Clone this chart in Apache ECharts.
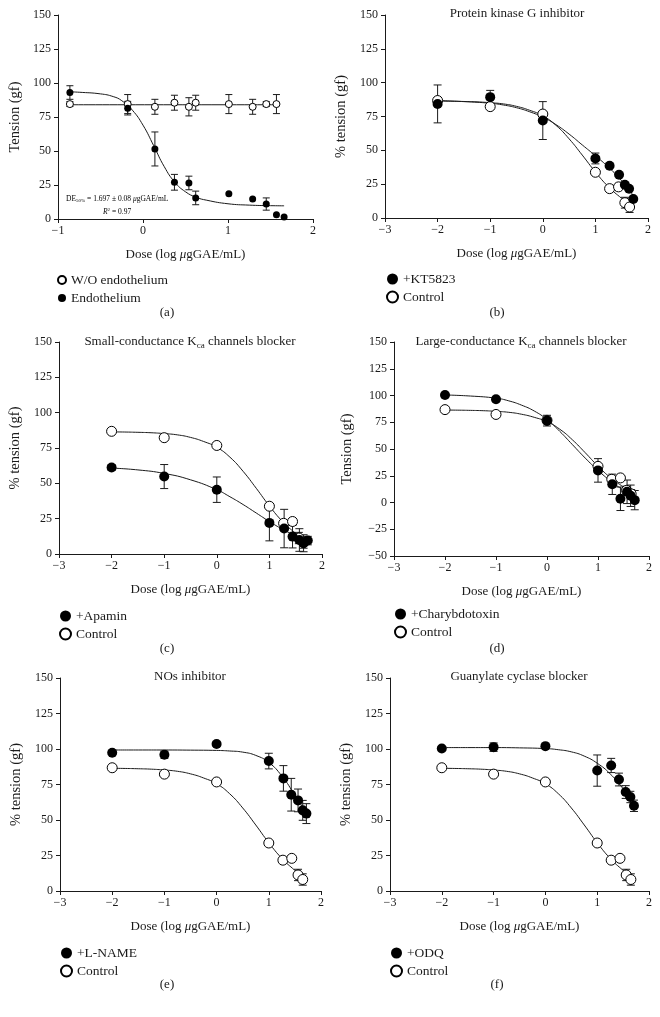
<!DOCTYPE html>
<html>
<head>
<meta charset="utf-8">
<script src="https://cdn.jsdelivr.net/npm/echarts@6/dist/echarts.min.js"></script>
<style>
html,body{margin:0;padding:0;background:#fff;}
#chart{width:660px;height:1017px;}
</style>
</head>
<body>
<div id="chart"></div>
<script>
// ---------- Panel (a) ----------
const aDose = [-0.86, -0.18, 0.14, 0.37, 0.54, 0.62, 1.01, 1.29, 1.45, 1.57];
const aWithout = [84.5, 84.5, 82.5, 85.5, 82.5, 85.5, 84.5, 82.5, 84.5, 84.5];
const aWithoutErr = [1.8, 7, 5.5, 5.5, 6.7, 5.5, 7, 5.5, 1.8, 7];
const aEndoDose = [-0.86, -0.18, 0.14, 0.37, 0.54, 0.62, 1.01, 1.29, 1.45, 1.57, 1.66];
const aEndo = [93, 81.5, 51.5, 27, 26.5, 15.5, 18.5, 14.7, 11, 3.2, 1.5];
const aEndoErr = [5, 5, 12.5, 5.8, 5, 5, 0, 0, 4.5, 0, 0];
const aFitDose = [-0.86, -0.75, -0.5, -0.35, -0.25, -0.125, 0, 0.125, 0.25, 0.375, 0.5, 0.625, 0.75, 1.0, 1.25, 1.5, 1.66];
const aFitEndo = [93.5, 93.2, 92, 90, 87, 80, 69, 54, 38.5, 27, 20, 16, 13.8, 11.2, 10.2, 9.8, 9.7];
const aFitWithoutDose = [-0.86, 1.57];
const aFitWithout = [84, 84];

// ---------- Shared control (b-f) ----------
const ctrlDose = [-2, -1, 0, 1.0, 1.27, 1.44, 1.56, 1.65];
const ctrlTension = [86.8, 82.3, 76.8, 33.8, 21.7, 23, 11.3, 8.1];
const ctrlErr = [0, 0, 0, 0, 0, 0, 4, 4];
const ctrlFitDose = [-2, -1.75, -1.5, -1.25, -1, -0.75, -0.5, -0.25, 0, 0.25, 0.5, 0.75, 1.0, 1.25, 1.5, 1.62];
const ctrlFit = [86.4, 86.3, 86.1, 85.8, 85.2, 84.3, 82.5, 79.6, 75.5, 68.5, 58.5, 46.5, 34, 23, 14.5, 11];

// ---------- Panel (b) +KT5823 ----------
const ktDose = [-2, -1, 0, 1.0, 1.27, 1.45, 1.56, 1.64, 1.72];
const ktTension = [84.3, 89.3, 72, 44, 38.6, 32, 24.6, 21.6, 14];
const ktErr = [14, 5, 14, 4, 0, 0, 0, 0, 0];
const ktFitDose = [-2, -1.5, -1, -0.75, -0.5, -0.25, 0, 0.25, 0.5, 0.75, 1.0, 1.25, 1.5, 1.73];
const ktFit = [86.8, 86, 84.8, 83.5, 81.5, 78.5, 74.5, 69, 62, 54, 46, 37.5, 27.5, 16];

// ---------- Panel (c) +Apamin ----------
const apaDose = [-2, -1, 0, 1.0, 1.28, 1.44, 1.57, 1.65, 1.73];
const apaTension = [61.2, 54.8, 45.5, 22, 18, 12.3, 9.9, 7.6, 9.5];
const apaErr = [2, 8.5, 9, 12.7, 13.6, 8, 8, 6, 3];
const apaFitDose = [-2, -1.5, -1, -0.5, 0, 0.25, 0.5, 0.75, 1.0, 1.25, 1.5, 1.73];
const apaFit = [60.8, 59.5, 57, 52.5, 45.5, 40.5, 35, 29, 23, 17.5, 13, 9.5];

// ---------- Panel (d) +Charybdotoxin ----------
const chDose = [-2, -1, 0, 1.0, 1.28, 1.44, 1.57, 1.64, 1.72];
const chTension = [100.5, 96.5, 76.5, 30, 17, 3.5, 10, 6.3, 2.2];
const chErr = [0, 0, 5, 11, 9.5, 11, 11, 10, 9];
const chFitDose = [-2, -1.5, -1, -0.75, -0.5, -0.25, 0, 0.25, 0.5, 0.75, 1.0, 1.25, 1.5, 1.73];
const chFit = [100.5, 99.5, 97.5, 95, 91, 85.5, 77.5, 66.5, 54, 41.5, 30, 20, 11.5, 5];

// ---------- Panel (e) +L-NAME ----------
const lnDose = [-2, -1, 0, 1.0, 1.28, 1.43, 1.56, 1.65, 1.72];
const lnTension = [97.3, 96, 103.5, 91.5, 79.3, 67.8, 63.8, 56.8, 54.5];
const lnErr = [0, 2.5, 1.5, 5.5, 9, 11.5, 8, 7, 7];
const lnFitDose = [-2, -1.5, -1, -0.5, 0, 0.25, 0.5, 0.75, 1.0, 1.25, 1.5, 1.72];
const lnFit = [99.3, 99.3, 99.3, 99.2, 99, 98.6, 97.8, 95.5, 90.5, 81, 67.5, 55];

// ---------- Panel (f) +ODQ ----------
const odqDose = [-2, -1, 0, 1.0, 1.27, 1.42, 1.55, 1.64, 1.71];
const odqTension = [100.3, 101.3, 102, 84.8, 88.4, 78.5, 69.7, 66.2, 60];
const odqErr = [0, 3, 0, 11, 5, 4.5, 4.5, 4, 4];
const odqFitDose = [-2, -1.5, -1, -0.5, 0, 0.25, 0.5, 0.75, 1.0, 1.25, 1.5, 1.72];
const odqFit = [101, 101, 101, 100.8, 100.3, 99.5, 98, 95, 90, 82.5, 72, 60];

// ---------- Tick / text labels ----------
const doseName = 'Dose (log {i|μ}gGAE/mL)';
const panelLabels = ['(a)', '(b)', '(c)', '(d)', '(e)', '(f)'];

const FONT = '"Liberation Serif", "DejaVu Serif", serif';
const INK = '#1a1a1a';

const grids = [
  {left: 58, top: 15, width: 255, height: 204},
  {left: 385, top: 15, width: 263, height: 203},
  {left: 59, top: 342, width: 263, height: 212},
  {left: 394, top: 342, width: 255, height: 214},
  {left: 60, top: 678, width: 261, height: 213},
  {left: 390, top: 678, width: 259, height: 213}
];
const xRanges = [[-1, 2], [-3, 2], [-3, 2], [-3, 2], [-3, 2], [-3, 2]];
const yRanges = [[0, 150], [0, 150], [0, 150], [-50, 150], [0, 150], [0, 150]];
const yNames = ['Tension (gf)', '% tension (gf)', '% tension (gf)', 'Tension (gf)', '% tension (gf)', '% tension (gf)'];
const yNameGaps = [35, 36, 36, 39, 36, 36];

const minus = v => String(v).replace('-', '−');

const xAxes = grids.map((g, i) => ({
  type: 'value', gridIndex: i, min: xRanges[i][0], max: xRanges[i][1], interval: 1,
  splitLine: {show: false},
  axisLine: {onZero: false, lineStyle: {color: INK, width: 1}},
  axisTick: {show: true, length: 4, lineStyle: {color: INK}},
  axisLabel: {color: INK, fontFamily: FONT, fontSize: 12, margin: 6, formatter: minus},
  name: doseName, nameLocation: 'middle', nameGap: 29,
  nameTextStyle: {color: INK, fontFamily: FONT, fontSize: 13, rich: {i: {fontStyle: 'italic', fontFamily: FONT, fontSize: 13, color: INK}}}
}));
const yAxes = grids.map((g, i) => ({
  type: 'value', gridIndex: i, min: yRanges[i][0], max: yRanges[i][1], interval: 25,
  splitLine: {show: false},
  axisLine: {show: true, onZero: false, lineStyle: {color: INK, width: 1}},
  axisTick: {show: true, length: 4, lineStyle: {color: INK}},
  axisLabel: {color: INK, fontFamily: FONT, fontSize: 12, margin: 7, formatter: minus},
  name: yNames[i], nameLocation: 'middle', nameGap: yNameGaps[i], nameRotate: 90,
  nameTextStyle: {color: INK, fontFamily: FONT, fontSize: 14.5}
}));

const zip = (xs, ys) => xs.map((x, k) => [x, ys[k]]);

let errCount = 0;
function errSeries(gi, xs, ys, es, cap) {
  const data = [];
  xs.forEach((x, k) => { if (es[k] > 0) data.push([x, ys[k] - es[k], ys[k] + es[k]]); });
  errCount += 1;
  return {
    type: 'custom', name: 'err' + errCount,
    xAxisIndex: gi, yAxisIndex: gi, z: 2, silent: true, clip: false,
    encode: {x: 0, y: [1, 2]},
    data,
    renderItem(params, api) {
      const lo = api.coord([api.value(0), api.value(1)]);
      const hi = api.coord([api.value(0), api.value(2)]);
      const w = cap / 2;
      const st = {stroke: INK, lineWidth: 1};
      return {type: 'group', children: [
        {type: 'line', shape: {x1: lo[0], y1: lo[1], x2: hi[0], y2: hi[1]}, style: st},
        {type: 'line', shape: {x1: lo[0] - w, y1: lo[1], x2: lo[0] + w, y2: lo[1]}, style: st},
        {type: 'line', shape: {x1: hi[0] - w, y1: hi[1], x2: hi[0] + w, y2: hi[1]}, style: st}
      ]};
    }
  };
}
function fitSeries(gi, xs, ys) {
  return {
    type: 'line', name: 'fit' + gi, xAxisIndex: gi, yAxisIndex: gi, z: 1, silent: true,
    data: zip(xs, ys), showSymbol: false, symbol: 'none', smooth: 0.5,
    lineStyle: {color: INK, width: 1}
  };
}
function dotSeries(gi, name, xs, ys, filled, size) {
  return {
    type: 'scatter', name, xAxisIndex: gi, yAxisIndex: gi, z: filled ? 4 : 3,
    data: zip(xs, ys), symbol: 'circle', symbolSize: size,
    itemStyle: filled ? {color: '#000', borderColor: '#000', borderWidth: 0, opacity: 1}
                      : {color: '#fff', borderColor: '#000', borderWidth: 1, opacity: 1}
  };
}

const series = [];
// (a)
series.push(fitSeries(0, aFitWithoutDose, aFitWithout));
series.push(fitSeries(0, aFitDose, aFitEndo));
series.push(errSeries(0, aDose, aWithout, aWithoutErr, 7));
series.push(errSeries(0, aEndoDose, aEndo, aEndoErr, 7));
series.push(dotSeries(0, 'W/O endothelium', aDose, aWithout, false, 7));
series.push(dotSeries(0, 'Endothelium', aEndoDose, aEndo, true, 7));

const treated = [
  {gi: 1, name: '+KT5823', x: ktDose, y: ktTension, e: ktErr, fx: ktFitDose, fy: ktFit},
  {gi: 2, name: '+Apamin', x: apaDose, y: apaTension, e: apaErr, fx: apaFitDose, fy: apaFit},
  {gi: 3, name: '+Charybdotoxin', x: chDose, y: chTension, e: chErr, fx: chFitDose, fy: chFit},
  {gi: 4, name: '+L-NAME', x: lnDose, y: lnTension, e: lnErr, fx: lnFitDose, fy: lnFit},
  {gi: 5, name: '+ODQ', x: odqDose, y: odqTension, e: odqErr, fx: odqFitDose, fy: odqFit}
];
treated.forEach(t => {
  series.push(fitSeries(t.gi, ctrlFitDose, ctrlFit));
  series.push(fitSeries(t.gi, t.fx, t.fy));
  series.push(errSeries(t.gi, ctrlDose, ctrlTension, ctrlErr, 8));
  series.push(errSeries(t.gi, t.x, t.y, t.e, 8));
  series.push(dotSeries(t.gi, 'Control', ctrlDose, ctrlTension, false, 10));
  series.push(dotSeries(t.gi, t.name, t.x, t.y, true, 10));
});

const legendBase = {
  orient: 'vertical', padding: 0, itemGap: 4, icon: 'circle',
  textStyle: {color: INK, fontFamily: FONT, fontSize: 13.5}, selectedMode: false
};
const legends = [
  Object.assign({}, legendBase, {left: 57, top: 273, itemWidth: 8, itemHeight: 8, data: ['W/O endothelium', 'Endothelium']}),
  Object.assign({}, legendBase, {left: 386, top: 272, itemWidth: 11, itemHeight: 11, data: ['+KT5823', 'Control']}),
  Object.assign({}, legendBase, {left: 59, top: 609, itemWidth: 11, itemHeight: 11, data: ['+Apamin', 'Control']}),
  Object.assign({}, legendBase, {left: 394, top: 607, itemWidth: 11, itemHeight: 11, data: ['+Charybdotoxin', 'Control']}),
  Object.assign({}, legendBase, {left: 60, top: 946, itemWidth: 11, itemHeight: 11, data: ['+L-NAME', 'Control']}),
  Object.assign({}, legendBase, {left: 390, top: 946, itemWidth: 11, itemHeight: 11, data: ['+ODQ', 'Control']})
];

const titleTexts = [
  {c: 517, y: 7, t: 'Protein kinase G inhibitor'},
  {c: 190, y: 334, t: 'Small-conductance K{sub|ca} channels blocker'},
  {c: 521, y: 334, t: 'Large-conductance K{sub|ca} channels blocker'},
  {c: 190, y: 670, t: 'NOs inhibitor'},
  {c: 519, y: 670, t: 'Guanylate cyclase blocker'}
];
const titles = titleTexts.map(o => ({
  text: o.t, left: o.c, top: o.y, textAlign: 'center', padding: 0,
  textStyle: {color: INK, fontFamily: FONT, fontSize: 13, fontWeight: 'normal',
    rich: {sub: {fontSize: 9, fontFamily: FONT, color: INK, padding: [7, 0, 0, 0]}}}
}));

const labelPos = [[167, 313], [497, 313], [167, 649], [497, 649], [167, 985], [497, 985]];
const graphics = panelLabels.map((s, i) => ({
  type: 'text', x: labelPos[i][0], y: labelPos[i][1],
  style: {text: s, fill: INK, font: '13px ' + FONT, textAlign: 'center', textVerticalAlign: 'middle'}
}));
graphics.push({
  type: 'text', x: 66, y: 199,
  style: {text: '{n|DE}{s|50%}{n| = 1.697 ± 0.08 }{i|μ}{n|gGAE/mL}', textVerticalAlign: 'middle',
    rich: {n: {fontSize: 7.5, fontFamily: FONT, color: INK},
           i: {fontSize: 7.5, fontFamily: FONT, fontStyle: 'italic', color: INK},
           s: {fontSize: 5, fontFamily: FONT, color: INK, padding: [4, 0, 0, 0]}}}
});
graphics.push({
  type: 'text', x: 103, y: 212,
  style: {text: '{i|R}{s|2}{n| = 0.97}', textVerticalAlign: 'middle',
    rich: {n: {fontSize: 7.5, fontFamily: FONT, color: INK},
           i: {fontSize: 7.5, fontFamily: FONT, fontStyle: 'italic', color: INK},
           s: {fontSize: 5, fontFamily: FONT, color: INK, padding: [0, 0, 5, 0]}}}
});

const chart = echarts.init(document.getElementById('chart'), null, {renderer: 'canvas'});
chart.setOption({
  backgroundColor: '#fff',
  animation: false,
  title: titles,
  grid: grids,
  xAxis: xAxes,
  yAxis: yAxes,
  legend: legends,
  series,
  graphic: graphics
});
</script>
</body>
</html>
